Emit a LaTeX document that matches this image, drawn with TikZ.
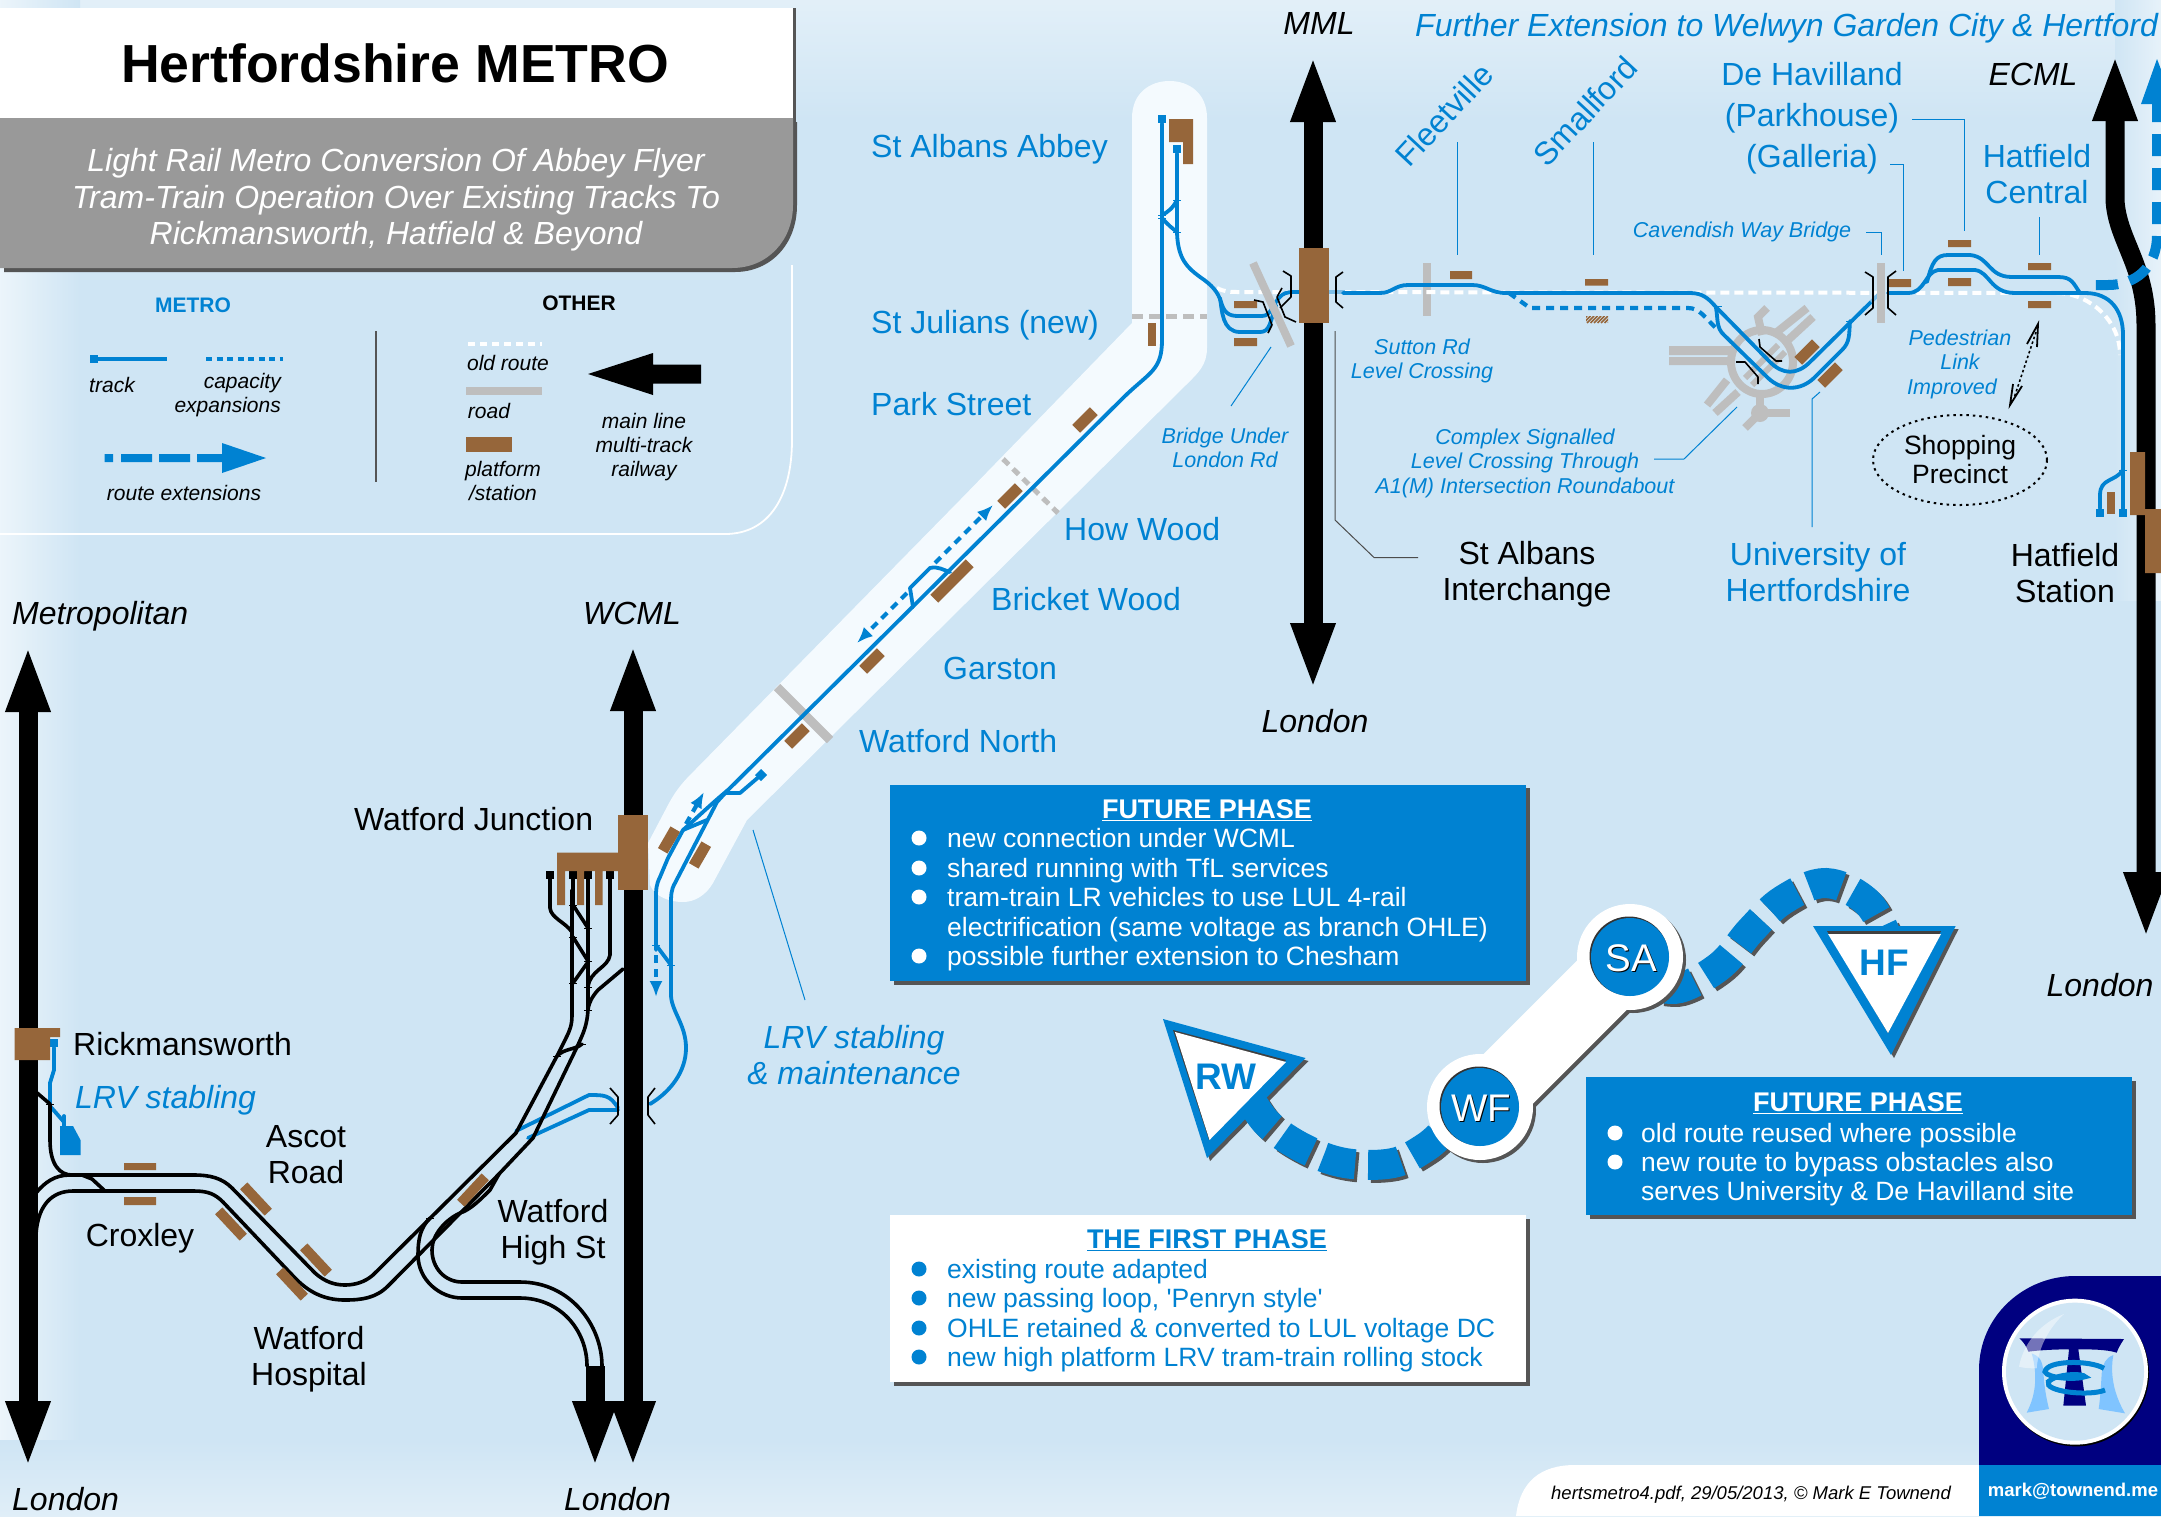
\documentclass[tikz,border=0pt]{standalone}
\usepackage{fontspec}
\setmainfont{Liberation Sans}
\newfontfamily\plainf{Liberation Sans}
\usetikzlibrary{arrows.meta,shapes.geometric}
\definecolor{mblue}{HTML}{0082D2}
\definecolor{bgc}{HTML}{CFE5F4}
\definecolor{bandc}{HTML}{F4FAFE}
\definecolor{platc}{HTML}{96663A}
\definecolor{roadc}{HTML}{BEBEBE}
\definecolor{navyc}{HTML}{000080}
\definecolor{panelc}{HTML}{999999}
\definecolor{shadc}{HTML}{555555}
\definecolor{paleb}{HTML}{80C4FF}
\tikzset{
  st/.style={inner sep=0pt,font=\fontsize{32}{36}\selectfont,align=center},
  stb/.style={st,text=mblue},
  ital/.style={inner sep=0pt,font=\itshape\fontsize{32}{36}\selectfont,align=center},
  midd/.style={yshift=-9pt},
  smalllab/.style={inner sep=0pt,font=\itshape\fontsize{21.5}{24.5}\selectfont,align=center,text=mblue},
  legt/.style={inner sep=0pt,font=\itshape\fontsize{21}{24}\selectfont,align=center},
  listt/.style={inner sep=0pt,anchor=mid west,yshift=-7pt,font=\fontsize{26.5}{30}\selectfont},
  listh/.style={inner sep=0pt,anchor=mid,yshift=-7pt,font=\bfseries\fontsize{27}{30}\selectfont},
  mainline/.style={line width=19pt,black,{Triangle[length=67pt,width=40pt]}-{Triangle[length=67pt,width=40pt]}},
  mainend/.style={line width=19pt,black,-{Triangle[length=67pt,width=40pt]}},
  btrk/.style={line width=3.6pt,black,line cap=round,line join=round},
  trk/.style={line width=3.8pt,mblue,line cap=round,line join=round},
  capline/.style={line width=4.2pt,mblue,dash pattern=on 8pt off 6pt},
  capa/.style={capline,-{Latex[length=16pt,width=13pt]}},
  oldr/.style={line width=4pt,white,dash pattern=on 9pt off 5pt},
  roadl/.style={line width=8pt,roadc},
  lead/.style={line width=1pt,mblue},
  brk/.style={line width=1.6pt,black,line join=round},
  plat/.style={fill=platc,inner sep=0pt,minimum width=25pt,minimum height=11pt},
  term/.style={fill=mblue,inner sep=0pt,minimum size=8.5pt},
  bterm/.style={fill=black,inner sep=0pt,minimum size=8pt},
  bigdash/.style={line width=30pt,mblue,dash pattern=on 33pt off 13pt},
  tickm/.style={line width=.8pt},
}
\begin{document}
\begin{tikzpicture}[x=1pt,y=-1pt]
\clip[use as bounding box] (0,0) rectangle (2161,1516);
% background
\fill[bgc] (0,0) rectangle (2161,1516);
\shade[top color=white!40!bgc,bottom color=bgc] (0,0) rectangle (2161,120);
\shade[left color=white!60!bgc,right color=bgc] (0,0) rectangle (80,1516);
\shade[top color=bgc,bottom color=white!35!bgc] (0,1440) rectangle (2161,1516);
\shade[left color=bgc,right color=white!50!bgc] (2115,0) rectangle (2161,600);
% light band of the metro
\fill[bandc] (1132,118) .. controls (1132,93) and (1150,81) .. (1169.5,81) .. controls (1189,81) and (1207,93) .. (1207,118)
  -- (1207,348) .. controls (1207,365) and (1198,373) .. (1188,383) -- (747,820) -- (713,883)
  .. controls (706,895) and (695,902) .. (683,902) .. controls (670,902) and (655,897) .. (650,885)
  -- (648,843) -- (668,805) .. controls (677,788) and (685,780) .. (695,770) -- (960,500) -- (1132,323) -- cycle;
% legend outline
\draw[white,line width=1.8pt] (0,534) -- (725,534) .. controls (770,534) and (792,495) .. (792,440) -- (792,265);
% title panel
\fill[shadc] (4,122) -- (797,122) -- (797,205) .. controls (797,245) and (770,272) .. (735,272) -- (4,272) -- cycle;
\fill[shadc] (793,8) rectangle (796,122);
\fill[white] (0,8) rectangle (793,118);
\fill[panelc] (0,118) -- (793,118) -- (793,205) .. controls (793,240) and (768,268) .. (732,268) -- (0,268) -- cycle;
\node[inner sep=0pt,anchor=mid,yshift=-16.5pt,font=\bfseries\fontsize{53.6}{56}\selectfont] (title) at (395,63) {Hertfordshire METRO};
\node[inner sep=0pt,font=\itshape\fontsize{32}{36.5}\selectfont,text=white,align=center] (subtitle) at (396,200) {Light Rail Metro Conversion Of Abbey Flyer\\Tram-Train Operation Over Existing Tracks To\\Rickmansworth, Hatfield \& Beyond};
% legend
\node[inner sep=0pt,font=\bfseries\fontsize{21}{24}\selectfont,text=mblue] (lmetro) at (193,305) {METRO};
\node[inner sep=0pt,font=\bfseries\fontsize{21}{24}\selectfont] (lother) at (579,303) {OTHER};
\node[term] (ltrackend) at (94,359) {};
\coordinate (ltrackr) at (167,359);
\draw[line width=4pt,mblue] (ltrackend) -- (ltrackr);
\draw[line width=4pt,mblue,dash pattern=on 6pt off 4.5pt] (206,359) -- (283,359);
\node[legt] (ltrack) at (112,385) {track};
\node[legt,align=right,anchor=north east,font=\itshape\fontsize{21}{24.5}\selectfont] (lcap) at (281,373) {capacity\\expansions};
\fill[mblue] (104.6,454) rectangle (113,462) (121,454) rectangle (152,462) (159,454) rectangle (190,462) (197,454) rectangle (222,462);
\fill[mblue] (222,443) -- (266,458) -- (222,473) -- cycle;
\node[legt] (lroute) at (184,493) {route extensions};
\draw[shadc,line width=1.2pt] (376,331) -- (376,482);
\draw[line width=4pt,white,dash pattern=on 7pt off 5pt] (468,344) -- (542,344);
\node[legt] (lold) at (508,363) {old route};
\fill[roadc] (466,387) rectangle (542,395);
\node[legt] (lroad) at (489,411) {road};
\fill[platc] (466,437) rectangle (512,452);
\node[legt,font=\itshape\fontsize{21}{24}\selectfont] (lplat) at (503,481) {platform\\/station};
\fill (588,374) -- (653,353) -- (653,364.5) -- (701,364.5) -- (701,383.5) -- (653,383.5) -- (653,395) -- cycle;
\node[legt] (lmain) at (644,447) {main line\\multi-track\\railway};
% roads
\draw[roadl] (1427,263) -- (1427,316);
\draw[roadl,line width=9pt] (777,687) -- (830,740);
\draw[line width=5pt,roadc,dash pattern=on 11pt off 6pt] (1132,316) -- (1207,316);
\draw[line width=5pt,roadc,dash pattern=on 8pt off 6pt] (1003,459) -- (1058,513);
% roundabout
\begin{scope}[roadc]
\draw[line width=8pt] (1762,362) ellipse (31pt and 32pt);
\fill (1669,346) rectangle (1732,355) (1669,357) rectangle (1732,365);
\draw[line width=8pt] (1777,332) -- (1807,308);
\draw[line width=8pt] (1787,341) -- (1813,317);
\draw[line width=8pt] (1762,335) -- (1758,317) -- (1767,308);
\draw[line width=8pt] (1727,380) -- (1707,405);
\draw[line width=8pt] (1738,392) -- (1715,413);
\draw[line width=8pt] (1760,393) -- (1760,413) -- (1790,413);
\draw[line width=8pt] (1760,413) -- (1745,428);
\fill (1760,413) circle (9pt);
\draw[line width=6pt] (1745,378) -- (1778,345);
\draw[line width=6pt] (1752,385) -- (1785,352);
\end{scope}
% old route
\draw[oldr] (1217,288) .. controls (1225,292) and (1230,292) .. (1240,292) -- (2060,293) .. controls (2090,295) and (2120,320) .. (2120,355);
% blue tracks: St Albans branch
\node[term] (tabbey) at (1162,119) {};
\node[term] (tabbey2) at (1177,149) {};
\coordinate (diagSW) at (728,790);
\draw[trk] (tabbey) -- (1162,340) .. controls (1162,370) and (1150,372) .. (1125,396) -- (diagSW)
  .. controls (710,805) and (700,815) .. (683,830) -- (668,858) -- (660,877) .. controls (656,885) and (656,890) .. (656,897) -- (656,950);
\draw[trk] (diagSW) -- (717,802) -- (675,883) .. controls (671,890) and (671,895) .. (671,905) -- (671,996)
  .. controls (672,1012) and (686,1025) .. (686,1048) .. controls (686,1072) and (670,1092) .. (650,1104);
\draw[trk] (683,830) -- (695,825) -- (707,820);
\draw[trk] (656,945) -- (671,965);
\node[term,rotate=45] (tyard) at (761,775) {};
\draw[trk] (725,793) -- (740,793) -- (tyard);
\draw[capa] (686,824) -- (704,792);
\draw[capa] (656,955) -- (656,997);
\draw[trk] (913,607) -- (910,588) -- (930,568) .. controls (938,566) and (943,570) .. (950,572);
\draw[capa] (907,593) -- (857,643);
\draw[capa] (935,563) -- (993,505);
% St Albans Abbey second track
\draw[trk] (tabbey2) -- (1177,233) .. controls (1178,260) and (1188,268) .. (1200,277) .. controls (1212,285) and (1218,292) .. (1221,302)
  .. controls (1224,312) and (1228,316) .. (1238,316) -- (1262,316) .. controls (1272,316) and (1272,303) .. (1282,295) .. controls (1286,292) and (1290,292) .. (1299,292);
\draw[trk] (1220,298) .. controls (1222,310) and (1222,332) .. (1240,332) -- (1260,332) .. controls (1270,332) and (1270,322) .. (1276,305);
\draw[trk] (1162,215) .. controls (1168,212) and (1173,208) .. (1177,200);
\draw[trk] (1162,218) .. controls (1168,225) and (1172,228) .. (1177,232);
\draw[line width=3.8pt,mblue!40!bgc] (1329,292) -- (1345,292);
% main blue east-west
\draw[trk] (1343,293) -- (1380,293) .. controls (1392,293) and (1395,285) .. (1408,285) -- (1472,285) .. controls (1486,285) and (1490,293) .. (1506,293)
  -- (1690,293) .. controls (1702,293) and (1708,298) .. (1715,306) -- (1770,362) .. controls (1783,375) and (1797,375) .. (1810,362) -- (1871,302);
\draw[line width=3.8pt,mblue!40!bgc] (1871,302) -- (1880,293);
\draw[trk] (1888,293) -- (1908,293) .. controls (1925,293) and (1925,272) .. (1938,270) -- (1975,270) .. controls (1990,272) and (1990,293) .. (2015,293)
  -- (2085,293) .. controls (2110,293) and (2123,310) .. (2123,335) -- (2123,513);
\draw[trk] (1927,282) .. controls (1932,262) and (1936,255) .. (1948,255) -- (1970,255) .. controls (1990,257) and (1988,277) .. (2012,277) -- (2058,277) .. controls (2072,277) and (2073,283) .. (2080,293);
\draw[trk] (1716,308) .. controls (1718,318) and (1716,328) .. (1724,335) -- (1768,378) .. controls (1782,391) and (1800,391) .. (1814,378) -- (1842,350) .. controls (1850,342) and (1849,335) .. (1850,321);
\draw[capline] (1509,293) -- (1530,308) -- (1688,308) .. controls (1700,308) and (1705,318) .. (1718,330);
\node[term] (thf1) at (2123,513) {};
\node[term] (thf2) at (2100,513) {};
\draw[trk] (2123,470) .. controls (2115,482) and (2100,478) .. (2100,495) -- (thf2);
\draw[roadl] (1253,263) -- (1291,346);
\draw[roadl] (1881,263) -- (1881,323);
% Rickmansworth stub
\node[term] (trick) at (54,1043) {};
\draw[trk] (trick) -- (54,1070) -- (50,1083) -- (50,1106) -- (64,1122);
\fill[mblue] (60,1126) -- (73,1126) -- (80.5,1140) -- (80.5,1155) -- (60,1155) -- cycle;
\draw[trk] (64,1116) -- (64,1128);
% under WCML towards Watford
\draw[trk] (618,1110) -- (589,1110) -- (528,1138);
\draw[trk] (618,1108) .. controls (610,1095) and (605,1095) .. (589,1095) -- (516,1131);
% black tracks west
\draw[btrk] (36,1193) .. controls (45,1182) and (55,1175) .. (70,1175) -- (194,1175) .. controls (210,1175) and (222,1178) .. (232,1188) -- (315,1273) .. controls (325,1282) and (335,1285) .. (345,1285) .. controls (355,1285) and (365,1282) .. (373,1275) -- (516,1133) -- (557,1056) -- (566,1038) .. controls (570,1030) and (572,1025) .. (572,1015) -- (572,890);
\draw[btrk] (36,1234) .. controls (38,1205) and (52,1191) .. (73,1191) -- (194,1191) .. controls (208,1191) and (215,1194) .. (223,1202) -- (296,1279) .. controls (312,1295) and (328,1300) .. (345,1300) .. controls (362,1300) and (376,1298) .. (388,1286) -- (499,1174) -- (533,1138) -- (577,1047) .. controls (584,1032) and (587,1025) .. (588,1010) -- (588,890);
\draw[btrk] (36,1092) -- (50,1104) -- (50,1140) .. controls (50,1165) and (60,1175) .. (72,1175);
\draw[btrk] (82,1175) -- (92,1179) -- (105,1191);
\draw[btrk] (430,1218) .. controls (420,1228) and (418,1240) .. (418,1255) .. controls (418,1280) and (440,1298) .. (462,1298) -- (520,1298) .. controls (560,1298) and (587,1330) .. (587,1366);
\draw[btrk] (499,1174) -- (490,1190) .. controls (480,1200) and (470,1210) .. (460,1213) .. controls (445,1220) and (432,1235) .. (432,1250) .. controls (432,1268) and (445,1282) .. (462,1282) -- (520,1282) .. controls (570,1282) and (602,1325) .. (602,1366);
\node[bterm] (wj1) at (550,875) {};
\node[bterm] (wj2) at (573,875) {};
\node[bterm] (wj3) at (588,875) {};
\node[bterm] (wj4) at (610,875) {};
\draw[btrk] (wj1) -- (550,908) .. controls (551,918) and (565,922) .. (572,932);
\draw[btrk] (573,905) -- (588,928);
\draw[btrk] (573,937) -- (588,961);
\draw[btrk] (588,962) -- (573,983);
\draw[btrk] (wj4) -- (610,955) .. controls (608,968) and (590,970) .. (588,987);
\draw[btrk] (623,969) -- (598,990) .. controls (592,997) and (589,1002) .. (588,1010);
\draw[btrk] (557,1056) .. controls (565,1048) and (575,1050) .. (582,1044);
\node[fill=black,inner sep=0pt,minimum width=18pt,minimum height=36pt] (wsq) at (595,1384) {};
% main lines
\draw[mainline] (28,645) -- (28,1468);
\draw[mainline] (633,644) -- (633,1468);
\coordinate (wsqtop) at (595,1366);
\draw[mainend] (wsqtop) -- (595,1468);
\draw[mainline] (1313,55) -- (1313,690);
\draw[mainline] (2115,54) -- (2115,200) .. controls (2117,240) and (2146,265) .. (2146,325) -- (2146,939);
% Hatfield extension
\draw[line width=10pt,mblue,dash pattern=on 22pt off 12pt] (2157,100) -- (2157,235) .. controls (2157,268) and (2135,285) .. (2108,285) -- (2088,285);
\fill[mblue] (2157,59) -- (2174,104) -- (2141,104) -- cycle;
% brown stations
\fill[platc] (1299,248) rectangle (1329,323);
\fill[platc] (618,815) rectangle (648,890);
\fill[platc] (557,852.5) rectangle (618,871) (557,871) rectangle (565,905) (577,871) rectangle (584,905) (595,871) rectangle (602.5,905);
\draw[btrk] (wj2) -- (573,905);
\draw[btrk] (wj3) -- (588,905);
\draw[btrk] (wj1) -- (550,890);
\draw[btrk] (wj4) -- (610,890);
\fill[platc] (14.5,1028) rectangle (60,1037) (14.5,1028) rectangle (50,1060);
\fill[platc] (2130,452) rectangle (2145,515) (2145,509) rectangle (2161,573);
\fill[platc] (2107,492) rectangle (2115,514);
\fill[platc] (1169,119) -- (1193,119) -- (1193,164) -- (1183,164) -- (1183,142) -- (1169,142) -- cycle;
\fill[platc] (1148,323) rectangle (1156,346);
\fill[platc] (1234,301) rectangle (1257,308) (1234,338) rectangle (1257,346);
\fill[platc] (1450,271) rectangle (1472,279) (1585,279) rectangle (1608,285.5);
\begin{scope}
\clip (1586,316) rectangle (1608,323);
\foreach \hx in {1580,1583.5,...,1612} \draw[platc,line width=1.6pt] (\hx,323) -- (\hx+7,316);
\end{scope}
\fill[platc] (1889,279) rectangle (1911,287) (1948,240) rectangle (1971,247) (1948,278) rectangle (1971,286) (2028,263) rectangle (2051,270) (2028,301) rectangle (2051,308);
\fill[platc] (124,1163) rectangle (156,1170) (124,1197) rectangle (156,1205);
\node[plat,rotate=45] (pow) at (1085,420) {};
\node[plat,rotate=45] (phw) at (1010,496) {};
\node[plat,rotate=45,minimum width=50pt] (pbw) at (952,581) {};
\node[plat,rotate=45] (pga) at (872,661) {};
\node[plat,rotate=45] (pwn) at (797,736) {};
\node[plat,rotate=60] (pwj1) at (669,840) {};
\node[plat,rotate=60] (pwj2) at (700,855) {};
\node[plat,rotate=45] (pun1) at (1807,352) {};
\node[plat,rotate=45] (pun2) at (1830,375) {};
\node[plat,rotate=-47,minimum width=36pt,minimum height=10pt] (pas1) at (256,1199) {};
\node[plat,rotate=-47,minimum width=36pt,minimum height=10pt] (pas2) at (231,1224) {};
\node[plat,rotate=-47,minimum width=36pt,minimum height=10pt] (pwh1) at (316,1260) {};
\node[plat,rotate=-47,minimum width=36pt,minimum height=10pt] (pwh2) at (292,1284) {};
\node[plat,rotate=47,minimum width=36pt,minimum height=10pt] (phs) at (473,1190) {};
% bridge brackets
\draw[brk] (1283,271) -- (1291,276) -- (1291,297) -- (1280,308);
\draw[brk] (1282,288) -- (1277,297) -- (1285,317) -- (1296,322);
\draw[brk] (1254,300) -- (1263,302) -- (1272,325) -- (1268,333);
\draw[brk] (1343,272) -- (1336,277) -- (1336,302) -- (1343,308);
\draw[brk] (1865,272) -- (1873,277) -- (1873,308) -- (1865,315);
\draw[brk] (1896,271) -- (1888,277) -- (1888,308) -- (1896,315);
\draw[brk] (610,1088) -- (618,1097) -- (618,1115) -- (610,1124);
\draw[brk] (655,1088) -- (648,1097) -- (648,1115) -- (655,1124);
\draw[brk] (1759,339) -- (1760,347) -- (1776,361) -- (1782,361);
\draw[brk] (1736,362) -- (1745,362) -- (1758,377) -- (1758,384);
% tick marks
\foreach \px/\py in {1162/215,1162/218,1177/200,1177/232,656/945,671/965,2123/470,1718/306,1850/321}
  \draw[tickm,mblue] (\px-4,\py) -- (\px+4,\py);
\foreach \px/\py in {573/905,588/928,573/937,588/961,573/983,588/987,588/1010,557/1056,582/1044,50/1104,430/1218,441/1230}
  \draw[tickm,black] (\px-4,\py) -- (\px+4,\py);
% leaders
\draw[lead] (1457,142) -- (1457,255);
\draw[lead] (1593,142) -- (1593,255);
\draw[lead] (1912,119) -- (1964,119) -- (1964,231);
\draw[lead] (1890,164) -- (1903,164) -- (1903,271);
\draw[lead] (1866,232) -- (1881,232) -- (1881,255);
\draw[lead] (2039,217) -- (2039,255);
\draw[lead] (1820,392) -- (1812,399) -- (1812,527);
\draw[lead] (1654,459) -- (1684,459) -- (1737,407);
\draw[lead] (1271,347) -- (1231,406);
\draw[lead] (753,830) -- (805,1000);
\draw[line width=1pt,black!70] (1335,331) -- (1335,520) -- (1374,557.5) -- (1418,557.5);
% pedestrian link
\draw[line width=1.6pt,dash pattern=on 2.5pt off 2.5pt] (2036,332) -- (2014,398);
\draw[line width=1.8pt] (2027,344) -- (2038,324) -- (2037,347);
\draw[line width=1.8pt] (2022,386) -- (2010,405) -- (2013,384);
\node[draw,ellipse,line width=2pt,dash pattern=on 2.5pt off 4pt,minimum width=174pt,minimum height=90pt,inner sep=0pt,font=\fontsize{26.5}{29}\selectfont,align=center] (shop) at (1960,460) {Shopping\\Precinct};
% labels
\node[ital,anchor=mid,midd] (nmml) at (1319,23) {MML};
\node[ital,anchor=mid west,midd,text=mblue] (next) at (1415,25) {Further Extension to Welwyn Garden City \& Hertford};
\node[ital,anchor=mid,midd] (necml) at (2033,74) {ECML};
\node[ital,anchor=mid west,midd] (nmet) at (12,613) {Metropolitan};
\node[ital,anchor=mid,midd] (nwcml) at (632,613) {WCML};
\node[ital,anchor=mid west,midd] (nl1) at (12,1499) {London};
\node[ital,anchor=mid west,midd] (nl2) at (564,1499) {London};
\node[ital,anchor=mid,midd] (nl3) at (1315,721) {London};
\node[ital,anchor=mid,midd] (nl4) at (2100,985) {London};
\node[stb,anchor=mid west,midd] (sabbey) at (871,146) {St Albans Abbey};
\node[stb,anchor=mid west,midd] (sjul) at (871,322) {St Julians (new)};
\node[stb,anchor=mid west,midd] (spark) at (871,404) {Park Street};
\node[stb,anchor=mid west,midd] (show) at (1064,529) {How Wood};
\node[stb,anchor=mid west,midd] (sbri) at (991,599) {Bricket Wood};
\node[stb,anchor=mid west,midd] (sgar) at (943,668) {Garston};
\node[stb,anchor=mid west,midd] (swn) at (859,741) {Watford North};
\node[st,anchor=mid west,midd] (swj) at (354,819) {Watford Junction};
\node[st,anchor=mid west,midd] (srick) at (73,1044) {Rickmansworth};
\node[ital,anchor=mid west,midd,text=mblue] (srlv) at (75,1097) {LRV stabling};
\node[st] (sasc) at (306,1155) {Ascot\\Road};
\node[st,anchor=mid,midd] (scro) at (140,1235) {Croxley};
\node[st] (swh) at (309,1359) {Watford\\Hospital};
\node[st] (shs) at (553,1232) {Watford\\High St};
\node[ital,text=mblue] (slrv) at (854,1055) {LRV stabling\\\& maintenance};
\node[stb,rotate=47] (sfle) at (1444,115) {Fleetville};
\node[stb,rotate=47] (ssma) at (1585,111) {Smallford};
\node[stb,font=\fontsize{32}{41}\selectfont] (sdeh) at (1812,118) {De Havilland\\(Parkhouse)\\(Galleria)};
\node[stb] (shat) at (2037,174) {Hatfield\\Central};
\node[st] (ssta) at (1527,574) {St Albans\\Interchange};
\node[stb] (suni) at (1818,572) {University of\\Hertfordshire};
\node[st] (shst) at (2065,573) {Hatfield\\Station};
\node[smalllab,anchor=mid,yshift=-5.5pt] (scav) at (1742,229) {Cavendish Way Bridge};
\node[smalllab] (ssut) at (1422,361) {Sutton Rd\\Level Crossing};
\node[smalllab] (sbrg) at (1225,448) {Bridge Under\\London Rd};
\node[smalllab] (scom) at (1525,463) {Complex Signalled\\Level Crossing Through\\A1(M) Intersection Roundabout};
\node[smalllab] (sped) at (1960,364) {Pedestrian\\Link\\Improved\hspace*{16pt}};
% future phase box 1
\fill[shadc] (894,788) rectangle (1530,985);
\fill[mblue] (890,785) rectangle (1526,981);
\node[listh,text=white] (h1) at (1207,809) {\underline{FUTURE PHASE}};
\foreach \yy in {838,868,897,956} \fill[white] (919,\yy) circle (7.5pt);
\node[listt,text=white] (i1) at (947,838) {new connection under WCML};
\node[listt,text=white] (i2) at (947,868) {shared running with TfL services};
\node[listt,text=white] (i3) at (947,897) {tram-train LR vehicles to use LUL 4-rail};
\node[listt,text=white] (i4) at (947,927) {electrification (same voltage as branch OHLE)};
\node[listt,text=white] (i5) at (947,956) {possible further extension to Chesham};
% future phase box 2
\fill[shadc] (1590,1081) rectangle (2136,1219);
\fill[mblue] (1586,1077) rectangle (2132,1215);
\node[listh,text=white] (h2) at (1858,1102) {\underline{FUTURE PHASE}};
\foreach \yy in {1133,1162} \fill[white] (1615,\yy) circle (7.5pt);
\node[listt,text=white] (j1) at (1641,1133) {old route reused where possible};
\node[listt,text=white] (j2) at (1641,1162) {new route to bypass obstacles also};
\node[listt,text=white] (j3) at (1641,1191) {serves University \& De Havilland site};
% first phase box
\fill[shadc] (894,1219) rectangle (1530,1386);
\fill[white] (890,1215) rectangle (1526,1382);
\node[listh,text=mblue] (h3) at (1207,1239) {\underline{THE FIRST PHASE}};
\foreach \yy in {1269,1298,1328,1357} \fill[mblue] (919,\yy) circle (7.5pt);
\node[listt,text=mblue] (k1) at (947,1269) {existing route adapted};
\node[listt,text=mblue] (k2) at (947,1298) {new passing loop, {\plainf '}Penryn style{\plainf '}};
\node[listt,text=mblue] (k3) at (947,1328) {OHLE retained \& converted to LUL voltage DC};
\node[listt,text=mblue] (k4) at (947,1357) {new high platform LRV tram-train rolling stock};
% route diagram
\begin{scope}[shift={(3,3)}]
\draw[bigdash,shadc,dash phase=37.5pt] plot[smooth,tension=.6] coordinates {(1445,1130) (1426,1147) (1393,1163) (1345,1163) (1303,1148) (1267,1123) (1245,1090)};
\draw[bigdash,shadc,dash phase=32.5pt] plot[smooth,tension=.6] coordinates {(1650,985) (1680,988) (1721,965) (1751,930) (1783,900) (1826,883) (1868,903) (1890,945)};
\fill[shadc] (1163,1019) -- (1305.5,1058) -- (1207,1158) -- cycle;
\fill[shadc] (1813,926) -- (1955.6,926) -- (1891,1055) -- cycle;
\end{scope}
\draw[bigdash,dash phase=37.5pt] plot[smooth,tension=.6] coordinates {(1445,1130) (1426,1147) (1393,1163) (1345,1163) (1303,1148) (1267,1123) (1245,1090)};
\draw[bigdash,dash phase=32.5pt] plot[smooth,tension=.6] coordinates {(1650,985) (1680,988) (1721,965) (1751,930) (1783,900) (1826,883) (1868,903) (1890,945)};
\fill[mblue] (1163,1019) -- (1305.5,1058) -- (1207,1158) -- cycle;
\fill[black!75] (1173,1030) -- (1286,1060) -- (1209,1140) -- cycle;
\fill[white] (1175,1032) -- (1286,1062) -- (1209.5,1140) -- cycle;
\fill[mblue] (1813,926) -- (1955.6,926) -- (1891,1055) -- cycle;
\fill[black!75] (1827,931) -- (1941,931) -- (1888,1033) -- cycle;
\fill[white] (1828,934) -- (1941,934) -- (1888,1033) -- cycle;
\node[inner sep=0pt,font=\bfseries\fontsize{37}{40}\selectfont,text=mblue] (nrw) at (1226,1077) {RW};
\node[inner sep=0pt,font=\bfseries\fontsize{37}{40}\selectfont,text=mblue] (nhf) at (1884,963) {HF};
\coordinate (csa) at (1630,957);
\coordinate (cwf) at (1480,1107);
\draw[line width=70pt,shadc] ([shift={(3,3)}]csa) -- ([shift={(3,3)}]cwf);
\fill[shadc] ([shift={(3,3)}]csa) circle (53pt) ([shift={(3,3)}]cwf) circle (53pt);
\draw[line width=70pt,white] (csa) -- (cwf);
\fill[white] (csa) circle (53pt) (cwf) circle (53pt);
\fill[black!80] (1629,956) circle (39.5pt) (1479,1106) circle (39.5pt);
\fill[mblue] (csa) circle (39pt) (cwf) circle (39pt);
\node[inner sep=0pt,font=\fontsize{38.5}{40}\selectfont,text=black] at (1632,959) {SA};
\node[inner sep=0pt,font=\fontsize{38.5}{40}\selectfont,text=white] (nsa) at (1631,958) {SA};
\node[inner sep=0pt,font=\fontsize{38.5}{40}\selectfont,text=black] at (1482,1109) {WF};
\node[inner sep=0pt,font=\fontsize{38.5}{40}\selectfont,text=white] (nwf) at (1481,1108) {WF};
% footer
\fill[white] (1516,1516) .. controls (1520,1482) and (1540,1465) .. (1575,1465) -- (1979,1465) -- (1979,1516) -- cycle;
\node[inner sep=0pt,anchor=mid,yshift=-4pt,font=\itshape\fontsize{18.5}{20}\selectfont] (foot) at (1751,1493) {hertsmetro4.pdf, 29/05/2013, © Mark E Townend};
\fill[navyc] (1979,1465) -- (1979,1370) .. controls (1979,1315) and (2025,1276) .. (2075,1276) -- (2161,1276) -- (2161,1465) -- cycle;
\fill[mblue] (1979,1465) rectangle (2161,1516);
\node[inner sep=0pt,anchor=mid,yshift=-1.5pt,font=\bfseries\fontsize{18.5}{20}\selectfont,text=white] (mail) at (2073,1492) {mark@townend.me};
% logo
\begin{scope}[shift={(1900,1260)},x=.33333pt,y=-.33333pt]
\fill[black] (528,340) circle (73pt);
\fill[white] (525,335) circle (73pt);
\fill[bgc] (525,335) circle (69pt);
\fill[paleb] (395,280) .. controls (420,290) and (425,300) .. (430,330) .. controls (432,380) and (440,420) .. (447,447) -- (380,458) .. controls (410,400) and (412,340) .. (395,280) -- cycle;
\fill[paleb] (640,285) .. controls (615,295) and (610,310) .. (605,340) .. controls (603,380) and (600,420) .. (596,447) -- (675,460) .. controls (640,400) and (630,340) .. (640,285) -- cycle;
\fill[navyc] (358,235) -- (672,237) .. controls (660,255) and (655,265) .. (650,278) .. controls (620,268) and (570,268) .. (535,268) -- (558,437) -- (490,437) -- (507,268) .. controls (470,268) and (420,270) .. (385,275) .. controls (380,260) and (370,245) .. (358,235) -- cycle;
\draw[mblue,line width=5pt] (612,325) .. controls (570,300) and (440,300) .. (435,335) .. controls (440,355) and (530,360) .. (555,350) .. controls (550,340) and (470,340) .. (445,365) .. controls (430,395) and (570,410) .. (615,390);
\fill[white,opacity=.45] (492,162) .. controls (420,190) and (370,250) .. (357,320) .. controls (375,325) and (395,325) .. (410,325) .. controls (415,260) and (450,200) .. (492,162) -- cycle;
\end{scope}
\end{tikzpicture}
\end{document}
